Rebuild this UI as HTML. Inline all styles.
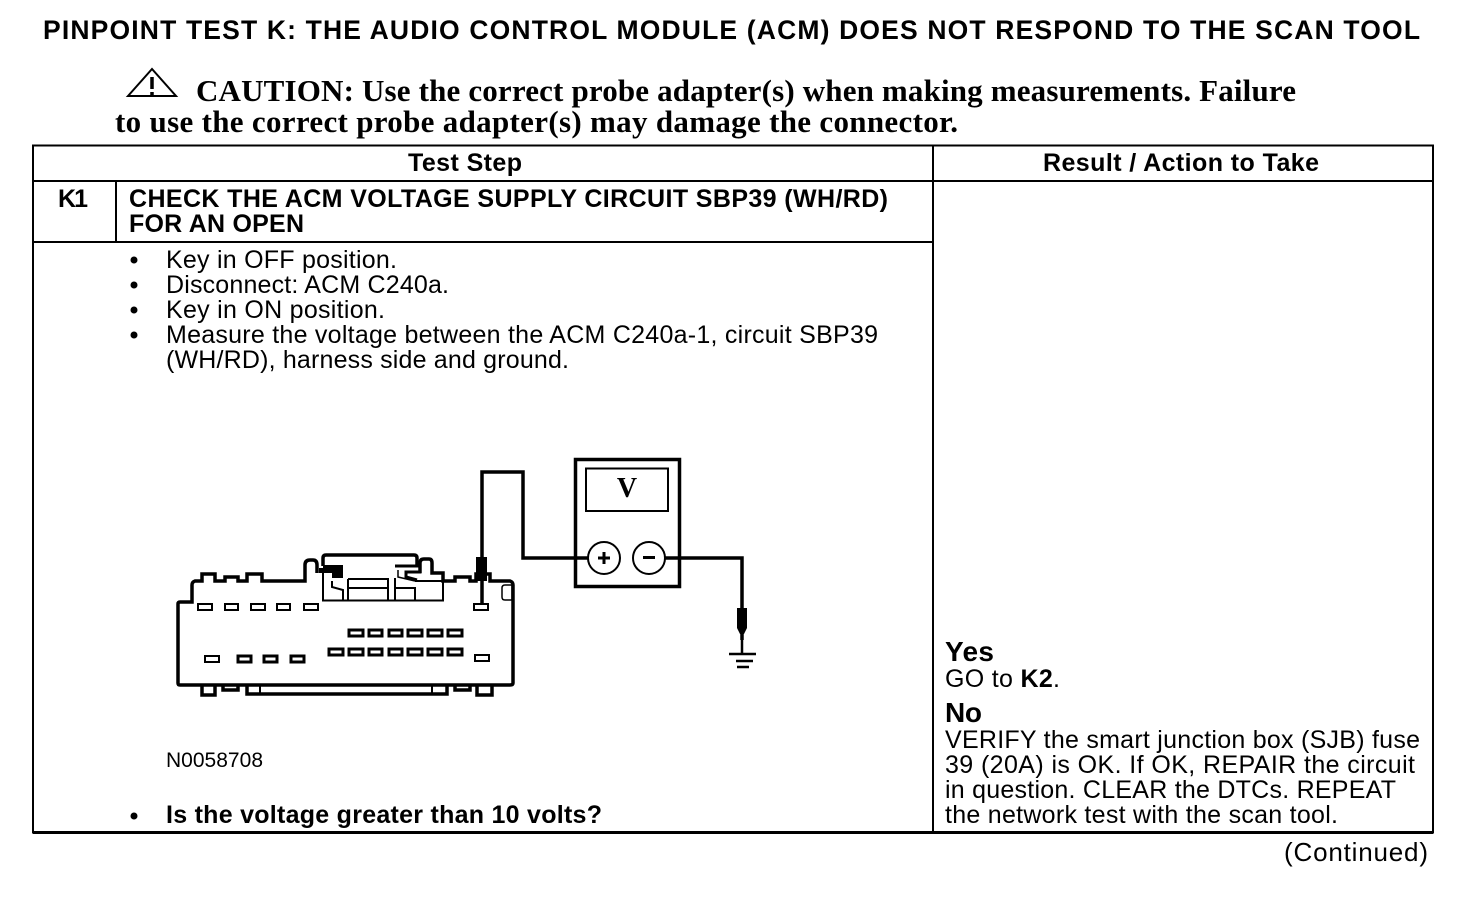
<!DOCTYPE html>
<html><head><meta charset="utf-8"><style>
html,body{margin:0;padding:0;background:#fff}
svg{display:block}
text{font-family:"Liberation Sans",sans-serif;fill:#000;font-size:25px}
.b{font-weight:bold}
.s{font-family:"Liberation Serif",serif;font-weight:bold;font-size:31px}
</style></head><body>
<svg width="1472" height="898" viewBox="0 0 1472 898" xmlns="http://www.w3.org/2000/svg">
<text class="b" x="43" y="39" textLength="1377" style="font-size:26.500px">PINPOINT TEST K: THE AUDIO CONTROL MODULE (ACM) DOES NOT RESPOND TO THE SCAN TOOL</text>
<path d="M128 96L152 69L176 96Z" fill="none" stroke="#000" stroke-width="2"/>
<path d="M152 77V89M152 92V96" stroke="#000" stroke-width="3.500"/>
<text class="s" x="196" y="101" textLength="1100">CAUTION: Use the correct probe adapter(s) when making measurements. Failure</text>
<text class="s" x="115" y="132" textLength="843">to use the correct probe adapter(s) may damage the connector.</text>
<g fill="none" stroke="#000" stroke-width="2">
<rect x="33" y="145.500" width="1400" height="687"/>
<path d="M33 181H1433M33 242H933M933 145V833M116 181V242"/>
</g>
<path d="M33 832.500H1433" stroke="#000" stroke-width="3"/>
<text class="b" x="408" y="171" textLength="114">Test Step</text>
<text class="b" x="1043" y="171" textLength="276">Result / Action to Take</text>
<text class="b" x="58" y="207" textLength="30">K1</text>
<text class="b" x="129" y="207" textLength="759">CHECK THE ACM VOLTAGE SUPPLY CIRCUIT SBP39 (WH/RD)</text>
<text class="b" x="129" y="232" textLength="175">FOR AN OPEN</text>
<g fill="#000"><circle cx="134" cy="260" r="3.500"/><circle cx="134" cy="285" r="3.500"/><circle cx="134" cy="310" r="3.500"/><circle cx="134" cy="335" r="3.500"/><circle cx="134" cy="816" r="3.500"/></g>
<text x="166" y="268" textLength="231">Key in OFF position.</text>
<text x="166" y="293" textLength="283">Disconnect: ACM C240a.</text>
<text x="166" y="318" textLength="219">Key in ON position.</text>
<text x="166" y="343" textLength="712">Measure the voltage between the ACM C240a-1, circuit SBP39</text>
<text x="166" y="368" textLength="403">(WH/RD), harness side and ground.</text>
<text x="166" y="767" textLength="97" style="font-size:21px">N0058708</text>
<text class="b" x="166" y="823" textLength="436">Is the voltage greater than 10 volts?</text>
<text class="b" x="945" y="661" textLength="49" style="font-size:28px">Yes</text>
<text x="945" y="687" textLength="115">GO to <tspan class="b">K2</tspan>.</text>
<text class="b" x="945" y="722" textLength="37" style="font-size:28px">No</text>
<text x="945" y="748" textLength="475">VERIFY the smart junction box (SJB) fuse</text>
<text x="945" y="773" textLength="470">39 (20A) is OK. If OK, REPAIR the circuit</text>
<text x="945" y="798" textLength="451">in question. CLEAR the DTCs. REPEAT</text>
<text x="945" y="823" textLength="393">the network test with the scan tool.</text>
<text x="1284" y="861" textLength="144" style="font-size:26px">(Continued)</text>

<!-- connector body -->
<path fill="none" stroke="#000" stroke-width="3.500" d="M317 573V565Q317 560 313 560H310Q305 560 305 565V581H262V574H247V581H238V577H225V581H215V574H202V581H195Q192 582 192 585V602H180Q178 602 178 604V683Q178 685 180 685H510Q513 685 513 683V585Q513 582 510 581H490V574H476V581H470V577H455V581H443V573H432V563Q432 559 429 559H424Q420 559 420 563V573"/>
<path fill="none" stroke="#000" stroke-width="3.500" d="M202 686V695H215V686M223 686V690H238V686M247 686V694H447V686M455 686V690H470V686M477 686V695H492V686"/>
<path fill="none" stroke="#000" stroke-width="3.500" d="M323 566V558Q323 555 326 555H414Q417 555 417 558V566"/>
<path fill="none" stroke="#000" stroke-width="2" d="M323 573V600.500H443V574M332 581V587L343 590V600M348 579V600M348 579H389M348 588H389M388 578V600M395 578V600M395 588H415V600M415 581H443M260 686V693M432 686V693"/>
<path fill="none" stroke="#000" stroke-width="1.500" d="M505 585H512V600H505Q502 600 502 597V588Q502 585 505 585Z"/>
<path d="M323 565H343V578H332V573H319V568H323Z" fill="#000"/>
<path d="M395 566H420V572H406V577L417 580" fill="none" stroke="#000" stroke-width="3"/>
<path d="M398 570V577L415 581" fill="none" stroke="#000" stroke-width="1.500"/>
<g fill="#fff" stroke="#000" stroke-width="2">
<rect x="198" y="604" width="14" height="6"/><rect x="225" y="604" width="13" height="6"/><rect x="251" y="604" width="14" height="6"/><rect x="277" y="604" width="13" height="6"/><rect x="304" y="604" width="14" height="6"/><rect x="474" y="604" width="14" height="6"/>
<g stroke-width="3">
<rect x="349" y="630" width="14" height="6"/><rect x="369" y="630" width="13" height="6"/><rect x="389" y="630" width="13" height="6"/><rect x="408" y="630" width="14" height="6"/><rect x="428" y="630" width="14" height="6"/><rect x="448" y="630" width="14" height="6"/>
<rect x="329" y="649" width="14" height="6"/><rect x="349" y="649" width="14" height="6"/><rect x="369" y="649" width="13" height="6"/><rect x="389" y="649" width="13" height="6"/><rect x="408" y="649" width="14" height="6"/><rect x="428" y="649" width="14" height="6"/><rect x="448" y="649" width="14" height="6"/>
<rect x="238" y="656" width="13" height="6"/><rect x="264" y="656" width="13" height="6"/><rect x="291" y="656" width="13" height="6"/>
</g>
<rect x="205" y="656" width="14" height="6"/><rect x="475" y="655" width="14" height="6"/>
</g>

<!-- meter and wires -->
<g fill="none" stroke="#000" stroke-width="3.500">
<path d="M482 604V472H523V558H588M664 558H742V640" />
<rect x="575.500" y="459.500" width="104" height="127"/>
</g>
<rect x="586" y="468.500" width="82" height="42.500" fill="#fff" stroke="#000" stroke-width="2"/>
<text x="627" y="497" text-anchor="middle" style="font-family:'Liberation Serif',serif;font-weight:bold;font-size:28px">V</text>
<circle cx="604" cy="558" r="16" fill="#fff" stroke="#000" stroke-width="2"/>
<circle cx="649" cy="558" r="16" fill="#fff" stroke="#000" stroke-width="2"/>
<path d="M598 558H610M604 552V564M643 557.500H655" stroke="#000" stroke-width="3"/>
<rect x="476" y="557" width="11" height="24" fill="#000"/>
<path d="M737 608H747V628L744 634H740L737 628Z" fill="#000"/>
<path d="M742 634V654" stroke="#000" stroke-width="2.500"/>
<path d="M729 654H756M736 661H753M737 667H749" stroke="#000" stroke-width="2.500"/>
</svg>
</body></html>
